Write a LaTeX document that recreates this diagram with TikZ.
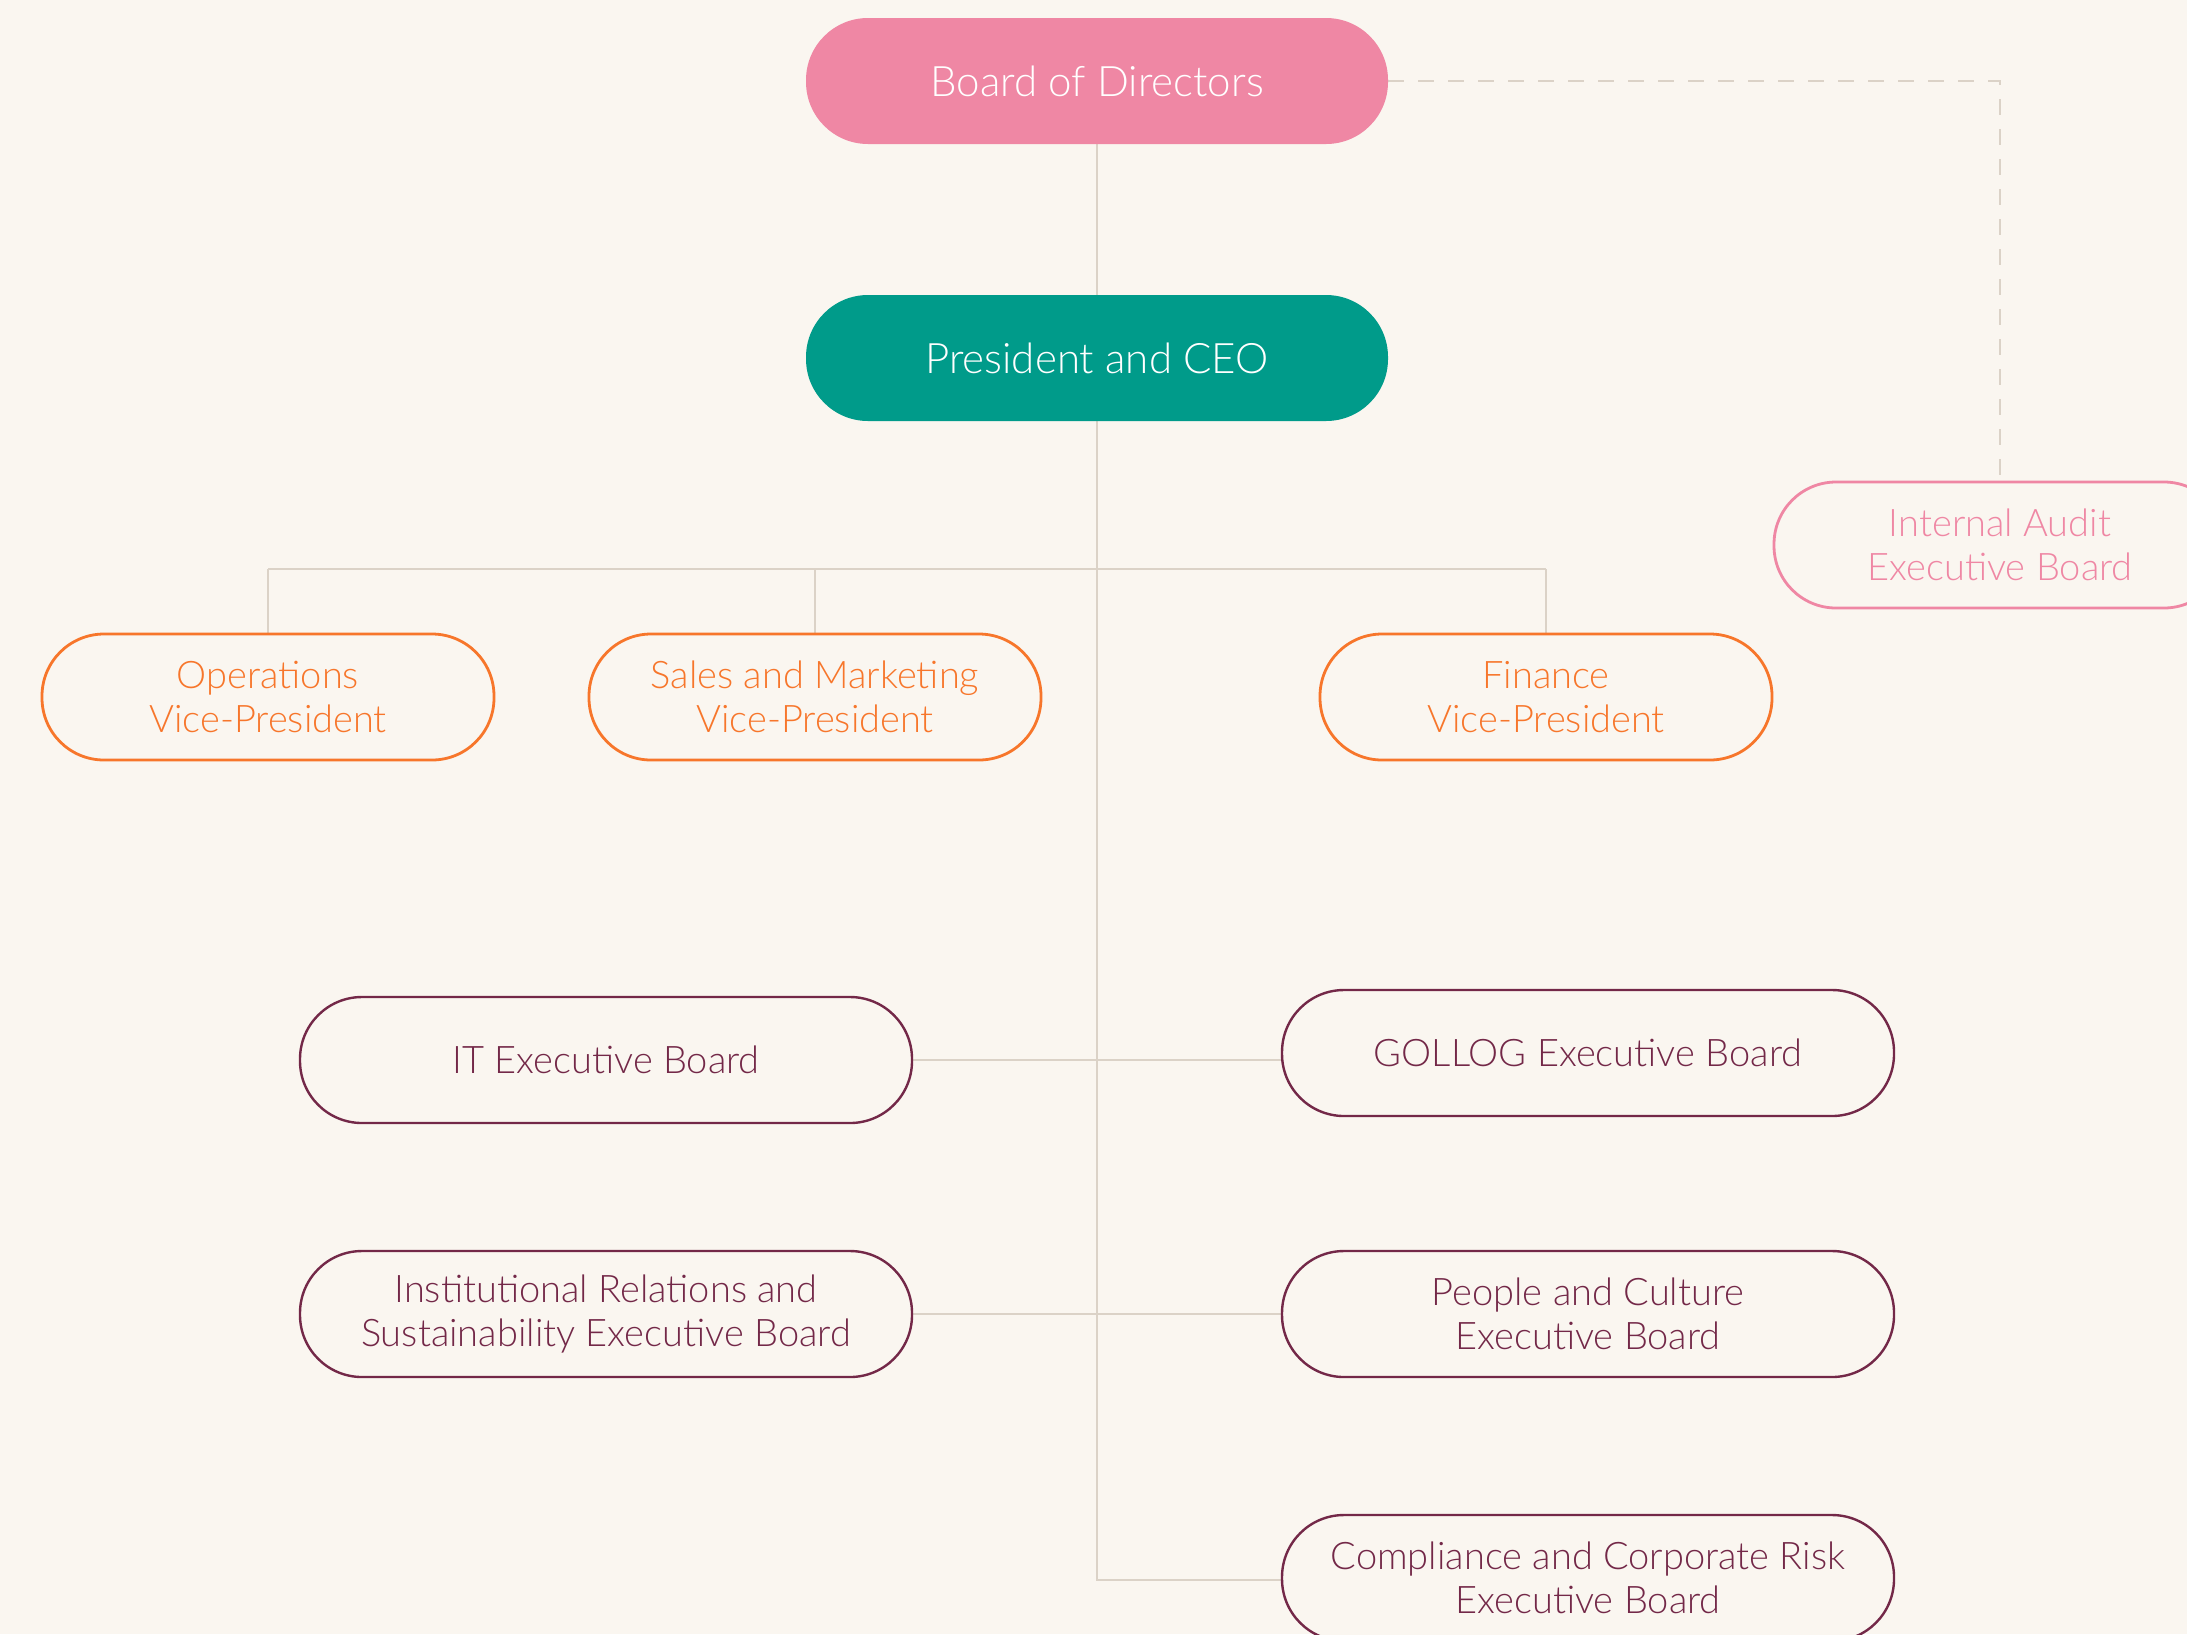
\documentclass[tikz,border=0pt]{standalone}
\usepackage{fontspec}
\setmainfont{Lato}[UprightFont=* Light]
\usetikzlibrary{backgrounds}
\definecolor{bg}{HTML}{FAF6F0}
\definecolor{pinkc}{HTML}{EF87A4}
\definecolor{tealc}{HTML}{009B8A}
\definecolor{orangec}{HTML}{F7762B}
\definecolor{maroonc}{HTML}{732848}
\definecolor{linec}{HTML}{DBD2C7}
\tikzset{
  pill/.style={rectangle, rounded corners=31pt, minimum height=63pt, align=center, inner sep=0pt},
  topbox/.style={pill, minimum width=291pt, text=white, font=\fontsize{21}{25}\selectfont},
  vpbox/.style={pill, minimum width=226pt, draw=orangec, line width=1.4pt, text=orangec, fill=bg, font=\fontsize{19}{22}\selectfont},
  auditbox/.style={pill, minimum width=226pt, draw=pinkc, line width=1.4pt, text=pinkc, fill=bg, font=\fontsize{19}{22}\selectfont},
  exbox/.style={pill, minimum width=306pt, draw=maroonc, line width=1.2pt, text=maroonc, fill=bg, font=\fontsize{19}{22}\selectfont},
  conn/.style={draw=linec, line width=1.3pt},
  dashconn/.style={draw=linec, line width=1.3pt, dash pattern=on 8pt off 7pt}
}
\begin{document}
\begin{tikzpicture}[x=0.5pt,y=-0.5pt]
\useasboundingbox (0,0) rectangle (2187,1634);
\clip (0,0) rectangle (2187,1634);
% nodes
\node[topbox, fill=pinkc] (board) at (1097,81) {Board of Directors};
\node[topbox, fill=tealc] (ceo) at (1097,358) {President and CEO};
\node[vpbox] (ops) at (268,697) {Operations\\Vice-President};
\node[vpbox] (sales) at (815,697) {Sales and Marketing\\Vice-President};
\node[vpbox] (fin) at (1546,697) {Finance\\Vice-President};
\node[auditbox] (audit) at (2000,545) {Internal Audit\\Executive Board};
\node[exbox] (it) at (606,1060) {IT Executive Board};
\node[exbox] (gollog) at (1588,1053) {GOLLOG Executive Board};
\node[exbox] (inst) at (606,1314) {Institutional Relations and\\Sustainability Executive Board};
\node[exbox] (people) at (1588,1314) {People and Culture\\Executive Board};
\node[exbox] (comp) at (1588,1578) {Compliance and Corporate Risk\\Executive Board};
\coordinate (bus) at (1097,569);
\coordinate (trunkend) at (1097,1580);
% background and connectors
\begin{scope}[on background layer]
\fill[bg] (0,0) rectangle (2187,1634);
\path[conn] (board.south) -- (ceo.north);
\path[conn] (ceo.south) -- (trunkend) -- (comp.west |- trunkend);
\path[conn] (ops.north |- bus) -- (fin.north |- bus);
\path[conn] (ops.north |- bus) -- (ops.north);
\path[conn] (sales.north |- bus) -- (sales.north);
\path[conn] (fin.north |- bus) -- (fin.north);
\path[conn] (it.east) -- (it.east -| gollog.west);
\path[conn] (inst.east) -- (people.west);
\path[dashconn] (board.east) -- (audit.north |- board.east) -- (audit.north);
\end{scope}
\end{tikzpicture}
\end{document}
